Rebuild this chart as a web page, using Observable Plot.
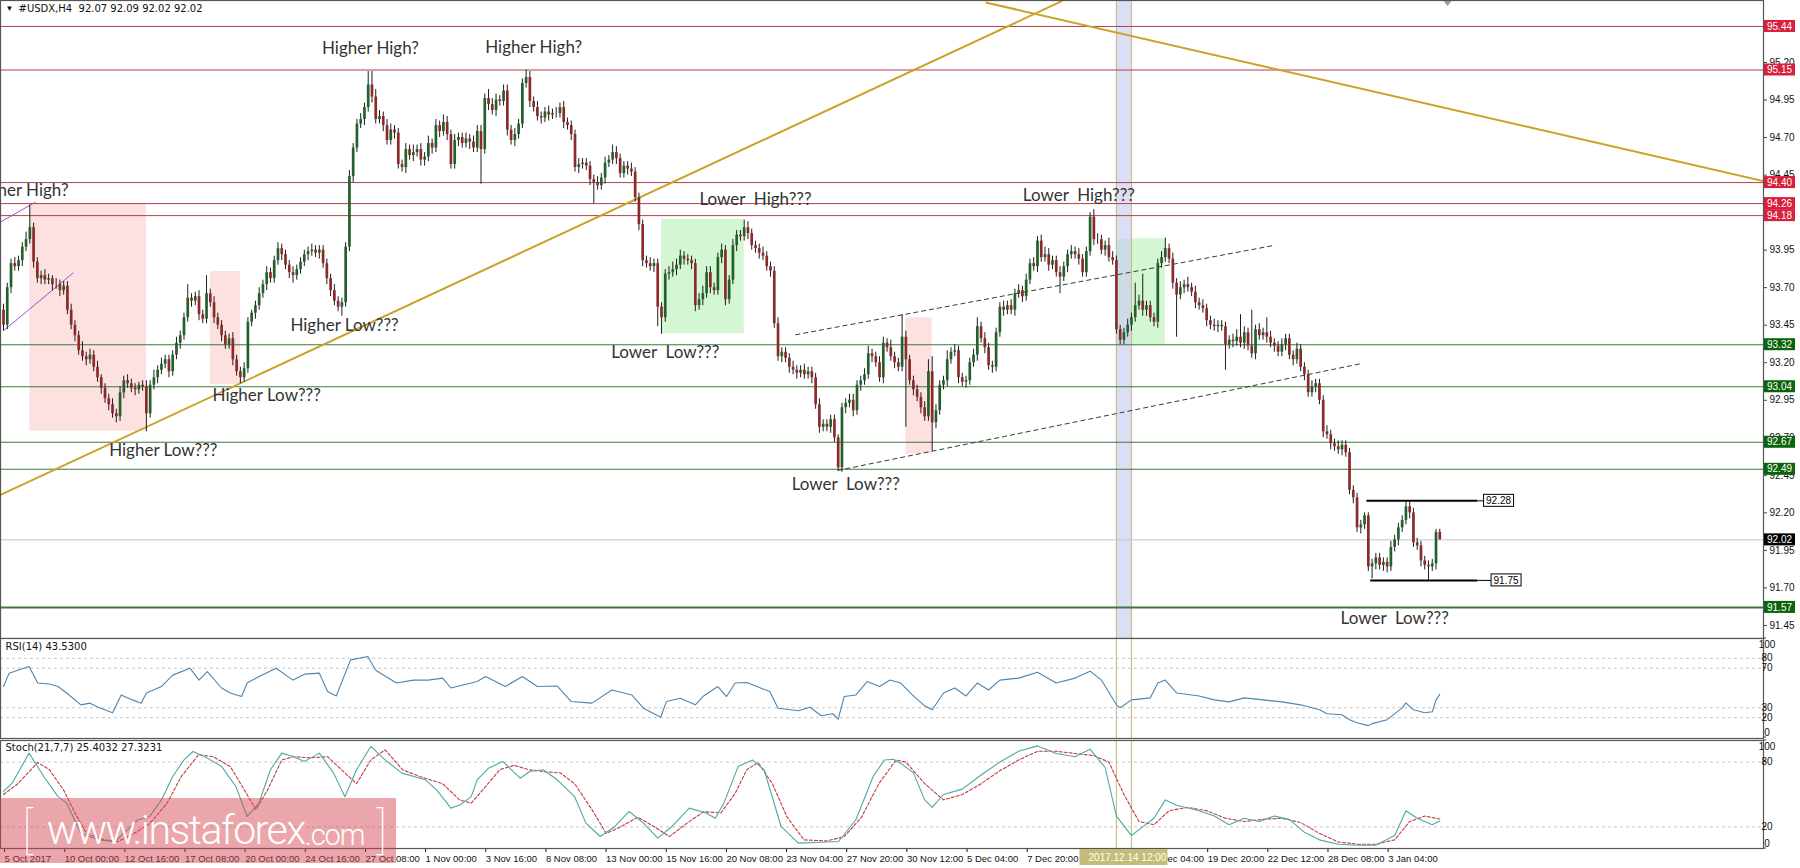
<!DOCTYPE html>
<html><head><meta charset="utf-8">
<script src="https://cdn.jsdelivr.net/npm/d3@7"></script>
<script src="https://cdn.jsdelivr.net/npm/@observablehq/plot@0.6"></script>
<style>
html,body{margin:0;padding:0;background:#fff}
body{width:1800px;height:868px;overflow:hidden;position:relative;font-family:"Liberation Sans",sans-serif}
.panel{position:absolute;left:0}
#main{top:0}#rsi{top:638px}#stoch{top:738px}
#wm{position:absolute;left:0;top:798px;width:396px;height:65px;background:rgba(214,70,82,0.48);color:#fff;font-family:Roboto,sans-serif;font-weight:300;display:flex;align-items:center;white-space:nowrap}
#wm .br{font-size:50px;font-weight:100;margin:0 14px 0 22px;line-height:1}
#wm .br2{font-size:50px;font-weight:100;margin-left:12px;line-height:1}
#wm .w{font-size:41px;letter-spacing:-1.5px;line-height:1}
#wm .c{font-size:29px;letter-spacing:-1px;line-height:1;margin-top:9px}
</style></head><body>
<div id="main" class="panel"></div>
<div id="rsi" class="panel"></div>
<div id="stoch" class="panel"></div>
<div id="wm"><span class="br">[</span><span class="w">www.instaforex</span><span class="c">.com</span><span class="br2">]</span></div>
<script>
// ---------------- DATA ----------------
const symbolHeader = "#USDX,H4  92.07 92.09 92.02 92.02";
const firstOpen = 93.55;
const closes = [
93.45,93.70,93.86,93.84,93.88,93.97,94.02,94.10,93.87,93.76,
93.78,93.75,93.76,93.72,93.72,93.68,93.71,93.55,93.45,93.38,
93.28,93.24,93.22,93.25,93.17,93.10,93.03,92.96,92.92,92.86,
92.84,93.00,93.08,93.06,93.03,93.02,93.05,93.04,92.86,93.05,
93.10,93.15,93.19,93.22,93.14,93.25,93.33,93.38,93.50,93.63,
93.61,93.64,93.52,93.49,93.66,93.60,93.50,93.45,93.38,93.32,
93.36,93.22,93.14,93.10,93.16,93.47,93.53,93.58,93.66,93.72,
93.80,93.76,93.88,93.96,93.92,93.85,93.80,93.78,93.82,93.87,
93.92,93.94,93.95,93.93,93.95,93.86,93.76,93.68,93.61,93.57,
93.60,93.97,94.44,94.63,94.79,94.82,94.90,95.05,94.97,94.82,
94.84,94.78,94.68,94.75,94.73,94.52,94.50,94.62,94.58,94.60,
94.62,94.55,94.57,94.66,94.63,94.78,94.74,94.80,94.72,94.52,
94.68,94.70,94.66,94.69,94.67,94.63,94.74,94.62,94.96,94.92,
94.88,94.95,94.94,95.01,94.75,94.68,94.72,94.79,95.06,95.10,
94.94,94.90,94.84,94.83,94.87,94.85,94.86,94.86,94.90,94.80,
94.78,94.72,94.50,94.52,94.53,94.51,94.42,94.40,94.38,94.43,
94.53,94.55,94.60,94.56,94.46,94.51,94.49,94.47,94.30,94.12,
93.88,93.86,93.84,93.86,93.57,93.50,93.79,93.80,93.82,93.85,
93.91,93.89,93.88,93.86,93.58,93.62,93.66,93.80,93.70,93.68,
93.90,93.95,93.62,93.75,93.98,94.05,94.04,94.10,94.06,93.98,
93.96,93.93,93.91,93.84,93.81,93.46,93.24,93.27,93.23,93.17,
93.15,93.13,93.15,93.12,93.14,93.10,92.92,92.77,92.79,92.77,
92.82,92.70,92.50,92.90,92.93,92.95,92.88,93.05,93.08,93.12,
93.26,93.24,93.20,93.10,93.33,93.30,93.24,93.20,93.17,93.37,
93.22,93.08,93.02,92.97,92.90,92.84,93.14,92.80,92.88,93.05,
93.08,93.22,93.27,93.28,93.10,93.07,93.08,93.20,93.25,93.44,
93.36,93.30,93.18,93.17,93.40,93.57,93.55,93.58,93.55,93.66,
93.68,93.64,93.75,93.86,93.84,94.01,93.90,93.92,93.85,93.88,
93.80,93.77,93.84,93.92,93.94,93.92,93.89,93.80,93.94,94.17,
94.02,94.02,93.95,93.98,93.90,93.88,93.42,93.35,93.40,93.45,
93.50,93.58,93.61,93.55,93.58,93.50,93.47,93.86,93.90,93.96,
93.89,93.73,93.65,93.70,93.72,93.70,93.67,93.60,93.58,93.56,
93.48,93.45,93.44,93.45,93.44,93.32,93.35,93.34,93.37,93.33,
93.40,93.31,93.26,93.42,93.38,93.40,93.37,93.33,93.31,93.27,
93.32,93.36,93.25,93.22,93.29,93.17,93.12,93.00,93.04,93.06,
92.95,92.74,92.72,92.66,92.64,92.62,92.65,92.60,92.35,92.30,
92.10,92.12,92.18,91.84,91.86,91.90,91.85,91.87,91.84,91.97,
92.02,92.10,92.15,92.24,92.20,92.00,91.98,91.88,91.85,91.84,
91.86,92.07,92.02];
const wickUp = [
.04,.03,.03,.04,.03,.03,.05,.15,.03,.03, .03,.04,.03,.02,.04,.03,.03,.03,.04,.03,
.03,.06,.03,.04,.03,.04,.02,.03,.03,.04, .03,.04,.03,.04,.03,.03,.02,.03,.04,.03,
.05,.03,.04,.03,.03,.03,.04,.03,.03,.09, .03,.03,.04,.03,.12,.03,.04,.03,.03,.03,
.03,.04,.03,.03,.04,.03,.02,.03,.04,.03, .04,.03,.03,.04,.03,.03,.03,.04,.03,.03,
.03,.03,.04,.03,.03,.03,.03,.03,.04,.03, .03,.03,.04,.03,.03,.04,.03,.09,.09,.05,
.04,.03,.04,.04,.03,.03,.03,.04,.03,.05, .03,.04,.03,.05,.03,.04,.03,.05,.04,.03,
.04,.03,.03,.04,.03,.04,.04,.04,.03,.06, .04,.04,.03,.04,.04,.03,.04,.03,.03,.05,
.04,.03,.04,.03,.03,.04,.03,.04,.03,.04, .03,.03,.03,.04,.03,.03,.03,.03,.04,.03,
.04,.03,.05,.04,.03,.03,.03,.04,.03,.03, .03,.03,.04,.03,.03,.03,.03,.04,.05,.04,
.04,.03,.03,.03,.03,.04,.05,.04,.04,.03, .03,.04,.03,.03,.04,.03,.03,.05,.04,.03,
.03,.03,.04,.03,.03,.03,.04,.03,.03,.03, .04,.03,.03,.04,.03,.03,.03,.04,.03,.03,
.03,.03,.02,.03,.03,.04,.04,.03,.03,.04, .05,.03,.03,.04,.04,.03,.05,.03,.03,.15,
.04,.03,.03,.03,.03,.04,.08,.10,.04,.03, .03,.06,.03,.04,.03,.03,.03,.03,.04,.06,
.03,.04,.03,.03,.03,.03,.04,.03,.04,.03, .04,.03,.04,.03,.04,.03,.04,.05,.04,.03,
.03,.04,.03,.03,.04,.03,.04,.03,.03,.03, .05,.04,.03,.03,.05,.04,.03,.03,.03,.04,
.03,.15,.04,.18,.03,.03,.03,.03,.04,.07, .03,.04,.03,.04,.03,.05,.03,.04,.03,.04,
.03,.03,.04,.03,.03,.03,.03,.04,.05,.15, .04,.03,.24,.03,.04,.03,.10,.04,.03,.03,
.04,.03,.03,.03,.04,.03,.03,.03,.04,.03, .03,.03,.04,.03,.03,.04,.03,.03,.03,.03,
.03,.03,.02,.02,.03,.03,.03,.03,.03,.04, .03,.03,.03,.04,.03,.03,.03,.03,.03,.03,
.03,.02,.02];
const wickDown = [
.04,.03,.04,.03,.03,.04,.03,.03,.04,.03, .04,.03,.03,.04,.03,.04,.03,.03,.03,.04,
.03,.03,.04,.03,.03,.03,.04,.03,.04,.03, .04,.03,.04,.03,.03,.04,.03,.03,.12,.03,
.03,.04,.03,.03,.04,.03,.03,.04,.03,.03, .04,.03,.04,.03,.03,.03,.04,.03,.04,.03,
.03,.04,.03,.04,.03,.03,.03,.04,.03,.03, .04,.03,.03,.03,.04,.03,.04,.05,.03,.03,
.03,.04,.03,.03,.04,.03,.04,.04,.03,.03, .06,.03,.03,.04,.03,.03,.04,.03,.04,.03,
.03,.04,.03,.03,.04,.03,.03,.04,.03,.04, .03,.04,.04,.03,.04,.03,.04,.03,.04,.03,
.03,.04,.03,.03,.05,.03,.03,.23,.03,.04, .03,.04,.03,.03,.04,.03,.04,.03,.03,.03,
.04,.03,.03,.04,.03,.04,.03,.03,.03,.04, .03,.04,.03,.04,.03,.03,.04,.14,.03,.03,
.04,.03,.03,.04,.03,.03,.04,.03,.03,.04, .04,.03,.03,.04,.13,.11,.03,.04,.03,.04,
.03,.04,.03,.04,.04,.03,.04,.03,.04,.03, .03,.04,.04,.03,.03,.04,.03,.03,.04,.03,
.03,.04,.03,.03,.04,.03,.03,.04,.03,.04, .03,.04,.03,.03,.03,.04,.03,.04,.03,.03,
.04,.03,.02,.03,.04,.03,.04,.03,.04,.03, .03,.04,.03,.03,.04,.03,.03,.04,.03,.03,
.45,.03,.04,.03,.04,.03,.03,.19,.04,.03, .03,.04,.03,.03,.04,.03,.04,.03,.03,.04,
.03,.04,.03,.04,.03,.03,.04,.03,.03,.04, .03,.04,.03,.03,.03,.04,.03,.03,.04,.03,
.03,.11,.03,.04,.03,.03,.04,.03,.03,.03, .04,.03,.03,.04,.03,.03,.03,.03,.03,.03,
.04,.03,.03,.04,.04,.03,.03,.04,.03,.03, .03,.04,.28,.03,.04,.03,.03,.04,.03,.03,
.04,.03,.03,.04,.03,.17,.03,.04,.03,.03, .04,.03,.03,.04,.03,.03,.04,.03,.04,.03,
.03,.04,.03,.04,.03,.03,.04,.03,.03,.04, .03,.04,.03,.04,.03,.03,.04,.03,.03,.04,
.03,.04,.03,.03,.08,.04,.03,.04,.04,.03, .03,.04,.03,.03,.04,.03,.03,.04,.03,.09,
.03,.04,.00];

// horizontal levels
const redLevels = [95.44, 95.15, 94.40, 94.26, 94.18];
const greenLevels = [93.32, 93.04, 92.67, 92.49, 91.57];
const lastPrice = 92.02;
const priceTicks = [95.20,94.95,94.70,94.45,93.95,93.70,93.45,93.20,92.95,92.70,92.45,92.20,91.95,91.70,91.45];

// zones (bar from/to, price from/to, kind)
const zoneBar1 = [7, 55, 175, 240, 296];
const zoneBar2 = [38, 63, 197, 247, 309];
const zonePriceTop = [94.254, 93.808, 94.155, 93.499, 94.025];
const zonePriceBottom = [92.744, 93.053, 93.393, 92.593, 93.321];
const zoneKind = ["sell", "sell", "buy", "sell", "buy"];

// crosshair band
const bandBars = [296.0, 300.0];
const crosshairLabel = "2017.12.14 12:00";

// trend lines
const trendBar1 = [-0.8, 261.2, -0.8, 0.1, 210.6, 221.8];
const trendPrice1 = [92.32, 95.60, 94.137, 93.415, 93.386, 92.482];
const trendBar2 = [281.6, 468.1, 8.5, 18.6, 337.8, 360.9];
const trendPrice2 = [95.61, 94.41, 94.27, 93.80, 93.981, 93.193];
const trendKind = ["gold", "gold", "purple", "purple", "dash", "dash"];

// range marks (black segments with price labels)
const rangePrices = [92.28, 91.75];
const rangeBar1 = [362.5, 363.5];
const rangeBar2 = [392, 392];
const rangeLabelBar = [397.5, 399.5];

// annotations
const annText = ["Higher High?", "Higher High?", "Higher High?", "Higher Low???", "Higher Low???", "Higher Low???",
  "Lower\u00a0 High???", "Lower\u00a0 Low???", "Lower\u00a0 Low???", "Lower\u00a0 High???", "Lower\u00a0 Low???"];
const annBar = [97.6, 141, 17.3, 90.7, 70, 42.5, 200, 176, 224, 286, 370];
const annPrice = [95.293, 95.30, 94.347, 93.45, 92.98, 92.615, 94.29, 93.27, 92.39, 94.314, 91.496];
const annAnchor = ["middle","middle","end","middle","middle","middle","middle","middle","middle","middle","middle"];

// x axis tick labels (every 16 H4 bars)
const timeTickBars = [0,16,32,48,64,80,96,112,128,144,160,176,192,208,224,240,256,272,288,304,320,336,352,368];
const timeTickLabels = ["5 Oct 2017","10 Oct 00:00","12 Oct 16:00","17 Oct 08:00","20 Oct 00:00","24 Oct 16:00",
  "27 Oct 08:00","1 Nov 00:00","3 Nov 16:00","8 Nov 08:00","13 Nov 00:00","15 Nov 16:00","20 Nov 08:00",
  "23 Nov 04:00","27 Nov 20:00","30 Nov 12:00","5 Dec 04:00","7 Dec 20:00","12 Dec 12:00","15 Dec 04:00",
  "19 Dec 20:00","22 Dec 12:00","28 Dec 08:00","3 Jan 04:00"];

// RSI(14)
const rsiTitle = "RSI(14) 43.5300";
const rsiBars = [0,1.5,3.8,6.8,9.1,12.2,14.5,16.8,20.6,23,25.2,29,31.3,34.3,36.6,38,42,45,49.6,52,54.2,58,60.3,63.3,64.8,68,72.5,77,80,84,86.2,88.5,92.3,96.9,99,104.5,109,113,116.8,119,126,128.2,133.5,138,142,147.3,151,156.5,161.8,167.1,170.2,174.8,176.3,180,184,186,190,192.3,194.6,197.7,203.8,206,211.4,214.5,217.5,220.6,222,223.6,226.7,229.7,233,235.8,238.6,
  242,245,247,250,253,256,259,262,265,270,275,280,285,289,292,296,297,300,305,307,309,312,318,322,326,330,335,340,345,350,352,356,358,360,363,364,368,372,373,375,378,380,381,382];
const rsiVals = [51.5,65,68,71.7,55,54,51.5,45,33,34.7,30.6,25,43,38,34.7,45,51.5,63,70,58,66.6,50,45,41.4,55,61.6,70,58,64,65,46.4,42,78.4,81.8,68,55,58,58,60,50,56.5,61.6,51.5,61.6,51.5,52,36.3,34.7,48,43,29.6,20.5,36.3,39.7,33,41.4,51.5,41.4,55,55.5,46.4,29.6,27,30.6,22,24,18.5,41.4,43,56.5,51.5,58,55,
  42,32,28,45,50,42,55,48,58,60,66,55,60,67,58,33,30,38,40,55,58,45,42,38,36,40,38,36,33,28,24,23,18,15,12,14,18,30,35,28,25,26,38,43.53];

// Stochastic(21,7,7)
const stochTitle = "Stoch(21,7,7) 25.4032 27.3231";
const stochBars = [0,2.3,6.8,10.7,14.5,16.8,20.6,25.2,29.7,32,35.8,38.9,42,45,48,50.4,54.2,58,61.8,64.8,67.9,71,74,77,80,84,87.8,90.8,93.9,97.7,101.5,106,112.2,115.2,119,121.5,124.4,126,129,132.8,137.4,140,143.5,147.3,151.9,154.9,158.7,162.6,166.4,170.2,174,177.8,182.4,187,189.3,191.6,195.4,199.2,202.3,206.8,211.4,216,222.1,226.7,231.3,234.3,236.6,238.6,
  242,245,247,250,255,260,265,270,275,280,285,289,293,296,300,303,306,309,312,318,322,326,330,334,338,342,346,350,355,360,365,370,373,376,380,382];
const stochMain = [52.8,60.5,88.3,66.7,48,42,14.2,8,6.5,14.2,26.6,29.7,45,66.7,82,89.8,83.7,76,57.4,29.7,42,72.9,88.3,85.2,80.6,88.3,69.8,48,72.9,94.5,82,69.8,63.6,54.3,37.4,40.5,48,63.6,74.4,80.6,65.1,71.3,72.9,63.6,48,23.5,11.1,20.4,34.3,23.5,9.6,20.4,37.4,32.7,28.1,42,76,82,72.9,20.4,5,5.6,6.5,26.6,66.7,82,82.7,79,
  70,45,38,50,55,68,80,90,95,88,85,92,75,30,12,20,28,45,40,35,30,22,28,25,30,27,15,8,4,3,3,12,35,28,22,25.4];
const signalBars = [0,3.8,9.1,12.2,16,19,22.1,26.7,30.5,34.3,38.9,43.5,47.3,51.9,55.7,60.3,64.1,67.1,70.2,74,77.1,81.6,86.2,90.8,93.9,97.7,101.5,106.1,110.7,116.8,121.3,124.4,127.4,132,135.8,139.7,144.2,148.1,151.9,156.5,160.3,164.1,168.7,173.2,177.1,181.6,186.2,190.8,194.6,197.7,200.7,204.5,208.4,212.9,219,223.6,228.2,232.8,237.4,
  240,245,250,255,260,265,270,275,280,285,290,294,298,302,306,310,315,320,325,330,335,340,345,350,355,360,365,370,374,378,382];
const stochSignal = [50,60,79.6,73,54,33,14,8,6.5,13,23,42,66.7,87,85,76,54,36,54,82,85,84,85,70,60,82,91.4,73,66.7,60,45,42,54,73,77,73,71,70,60,36,14,20,29,20,11,23,34,33,51,73,79.6,60,29,8,7,11,29,60,82,
  80,60,45,50,60,72,82,90,90,88,86,80,50,25,22,35,38,35,28,25,27,28,24,14,6,4,4,8,25,30,27.3];

// ---------------- BUILD ----------------
const W = 1800, MR = 37;
const xDomain = [-0.8, 468.1];
const priceDomain = [91.363, 95.613];
const fontAxis = "Liberation Sans, sans-serif";
const colBull = "#24602a", colBear = "#8c2a2a";

const bars = closes.map((c, i) => {
  const o = i === 0 ? firstOpen : closes[i - 1];
  return {i, o, c, h: Math.max(o, c) + wickUp[i], l: Math.min(o, c) - wickDown[i]};
});
const zones = zoneBar1.map((b, k) => ({x1: b, x2: zoneBar2[k], y1: zonePriceBottom[k], y2: zonePriceTop[k], kind: zoneKind[k]}));
const trends = trendBar1.map((b, k) => ({x1: b, y1: trendPrice1[k], x2: trendBar2[k], y2: trendPrice2[k], kind: trendKind[k]}));
const anns = annText.map((t, k) => ({t, x: annBar[k], y: annPrice[k], a: annAnchor[k]}));
const ranges = rangePrices.map((p, k) => ({p, x1: rangeBar1[k], x2: rangeBar2[k], lx: rangeLabelBar[k]}));
const rsiPts = rsiBars.map((b, k) => ({x: b, y: rsiVals[k]}));
const stMain = stochBars.map((b, k) => ({x: b, y: stochMain[k]}));
const stSig = signalBars.map((b, k) => ({x: b, y: stochSignal[k]}));

const trendStyle = {
  gold: {stroke: "#c9a227", strokeWidth: 2},
  purple: {stroke: "#9a4fd0", strokeWidth: 1},
  dash: {stroke: "#3a3a3a", strokeWidth: 1, strokeDasharray: "5,3"}
};

const main = Plot.plot({
  width: W, height: 638, marginLeft: 0, marginRight: MR, marginTop: 0, marginBottom: 0,
  style: {background: "#fff", overflow: "hidden"},
  x: {domain: xDomain, axis: null},
  y: {domain: priceDomain, axis: null},
  marks: [
    Plot.rect(zones, {x1: "x1", x2: "x2", y1: "y1", y2: "y2", fill: d => d.kind === "buy" ? "#d3f6d3" : "#fde0e0"}),
    Plot.rect([bandBars], {x1: d => d[0], x2: d => d[1], y1: () => priceDomain[0], y2: () => priceDomain[1], fill: "#c9cdf2", fillOpacity: 0.65}),
    Plot.ruleX(bandBars, {stroke: "#c8c08a", strokeWidth: 1.2}),
    Plot.ruleY(redLevels, {stroke: "#b0404c", strokeWidth: 1}),
    Plot.ruleY(greenLevels, {stroke: "#3b7a3b", strokeWidth: d => d === 91.57 ? 2 : 1.1}),
    Plot.ruleY([lastPrice], {stroke: "#c4c4c4", strokeWidth: 1}),
    ...["gold", "purple", "dash"].map(k => Plot.link(trends.filter(d => d.kind === k), {x1: "x1", y1: "y1", x2: "x2", y2: "y2", clip: true, ...trendStyle[k]})),
    Plot.ruleX(bars, {x: "i", y1: "l", y2: "h", stroke: "#1e1e1e", strokeWidth: 1}),
    Plot.ruleX(bars, {x: "i", y1: "o", y2: "c", stroke: d => d.c >= d.o ? colBull : colBear, strokeWidth: 2.7}),
    Plot.link(ranges, {x1: "x1", x2: "x2", y1: "p", y2: "p", stroke: "#000", strokeWidth: 2}),
    Plot.link(ranges, {x1: "x2", x2: d => d.lx - 3.5, y1: "p", y2: "p", stroke: "#000", strokeWidth: 1}),
    ...["middle", "end"].map(a => Plot.text(anns.filter(d => d.a === a), {x: "x", y: "y", text: "t", textAnchor: a,
      fontFamily: "Lato, sans-serif", fontSize: 17, fill: "#333"})),
    Plot.text([symbolHeader], {frameAnchor: "top-left", dx: 18, dy: 4, text: d => d, fontFamily: "DejaVu Sans, sans-serif", fontSize: 10, fill: "#111"}),
    Plot.text(["▼"], {frameAnchor: "top-left", dx: 5, dy: 5, text: d => d, fontSize: 8, fill: "#111"}),
    Plot.axisY({anchor: "right", ticks: priceTicks, tickFormat: d => d.toFixed(2), tickSize: 3, tickPadding: 3,
      fontSize: 10, fontFamily: fontAxis, label: null, stroke: "#444", color: "#111"}),
    Plot.frame({stroke: "#555", strokeWidth: 1.2})
  ]
});
document.getElementById("main").appendChild(main);

// label boxes on right price axis
(function () {
  const ys = main.scale("y"), xs = main.scale("x");
  const svg = d3.select(main);
  const g = svg.append("g").attr("font-family", fontAxis).attr("font-size", 10);
  const boxes = [
    ...redLevels.map(v => ({v, bg: "#d81f3c", fg: "#fff"})),
    ...greenLevels.map(v => ({v, bg: "#0b640b", fg: "#fff"})),
    {v: lastPrice, bg: "#000", fg: "#fff"}
  ];
  const xr = xs.apply(xDomain[1]);
  boxes.forEach(b => {
    const py = ys.apply(b.v);
    g.append("rect").attr("x", xr + 1).attr("y", py - 6).attr("width", 31).attr("height", 12).attr("fill", b.bg);
    g.append("text").attr("x", xr + 16.5).attr("y", py + 3.6).attr("text-anchor", "middle").attr("fill", b.fg).text(b.v.toFixed(2));
  });
  ranges.forEach(r => {
    const px = xs.apply(r.lx), py = ys.apply(r.p);
    g.append("rect").attr("x", px - 14).attr("y", py - 6).attr("width", 30).attr("height", 12).attr("fill", "#fff").attr("stroke", "#000");
    g.append("text").attr("x", px + 1).attr("y", py + 3.6).attr("text-anchor", "middle").attr("fill", "#000").text(r.p.toFixed(2));
  });
  // chart-shift marker
  const sx = xs.apply(closes.length + 1.2);
  svg.append("path").attr("d", `M${sx - 4},1 L${sx + 4},1 L${sx},6 Z`).attr("fill", "#9a9a9a");
})();

const rsi = Plot.plot({
  width: W, height: 100, marginLeft: 0, marginRight: MR, marginTop: 0, marginBottom: 0,
  style: {background: "#fff", overflow: "visible"},
  x: {domain: xDomain, axis: null},
  y: {domain: [-1, 100], axis: null},
  marks: [
    Plot.ruleY([80, 70, 30, 20], {stroke: "#c6c6c6", strokeDasharray: "3,3"}),
    Plot.ruleX(bandBars, {stroke: "#c8c08a", strokeWidth: 1.2}),
    Plot.line(rsiPts, {x: "x", y: "y", stroke: "#4c86b3", strokeWidth: 1.1}),
    Plot.text([rsiTitle], {frameAnchor: "top-left", dx: 5, dy: 4, text: d => d, fontFamily: "DejaVu Sans, sans-serif", fontSize: 10, fill: "#111"}),
    Plot.frame({stroke: "#555", strokeWidth: 1.2})
  ]
});
document.getElementById("rsi").appendChild(rsi);

const stoch = Plot.plot({
  width: W, height: 130, marginLeft: 0, marginRight: MR, marginTop: 2, marginBottom: 20,
  style: {background: "transparent", overflow: "visible"},
  x: {domain: xDomain},
  y: {domain: [0, 100], axis: null},
  marks: [
    Plot.ruleY([80, 20], {stroke: "#c6c6c6", strokeDasharray: "3,3"}),
    Plot.ruleX(bandBars, {stroke: "#c8c08a", strokeWidth: 1.2}),
    Plot.line(stSig, {x: "x", y: "y", stroke: "#c23b3b", strokeWidth: 1.1, strokeDasharray: "3,2"}),
    Plot.line(stMain, {x: "x", y: "y", stroke: "#4ea9a3", strokeWidth: 1.1}),
    Plot.text([stochTitle], {frameAnchor: "top-left", dx: 5, dy: 3, text: d => d, fontFamily: "DejaVu Sans, sans-serif", fontSize: 10, fill: "#111"}),
    Plot.axisX({ticks: timeTickBars, tickFormat: d => timeTickLabels[timeTickBars.indexOf(d)], tickSize: 4, tickPadding: 3,
      textAnchor: "start", dx: 1, fontSize: 9.5, fontFamily: fontAxis, label: null, color: "#111"}),
    Plot.frame({stroke: "#555", strokeWidth: 1.2})
  ]
});
document.getElementById("stoch").appendChild(stoch);

// indicator right-side level labels and crosshair time label
(function () {
  const addLabels = (plot, vals, offs) => {
    const ys = plot.scale("y"), xs = plot.scale("x");
    const g = d3.select(plot).append("g").attr("font-family", fontAxis).attr("font-size", 10).attr("fill", "#111");
    const xr = xs.apply(xDomain[1]);
    vals.forEach((v, k) => {
      const py = ys.apply(v);
      g.append("line").attr("x1", xr).attr("x2", xr + 3).attr("y1", py).attr("y2", py).attr("stroke", "#444");
      g.append("text").attr("x", xr + 4).attr("y", py + 3.5 + offs[k]).text(v);
    });
  };
  addLabels(rsi, [100, 80, 70, 30, 20, 0], [6, 0, 0, 0, 0, -5]);
  addLabels(stoch, [100, 80, 20, 0], [6, 0, 0, -5]);

  const xs = stoch.scale("x");
  const cx = (xs.apply(bandBars[0]) + xs.apply(bandBars[1])) / 2;
  const g = d3.select(stoch).append("g");
  g.append("rect").attr("x", cx - 44).attr("y", 111).attr("width", 88).attr("height", 16).attr("fill", "#c4bd78");
  g.append("text").attr("x", cx + 4).attr("y", 123).attr("text-anchor", "middle").attr("fill", "#fff")
    .attr("font-family", fontAxis).attr("font-size", 10).text(crosshairLabel);
})();
</script>
</body></html>
